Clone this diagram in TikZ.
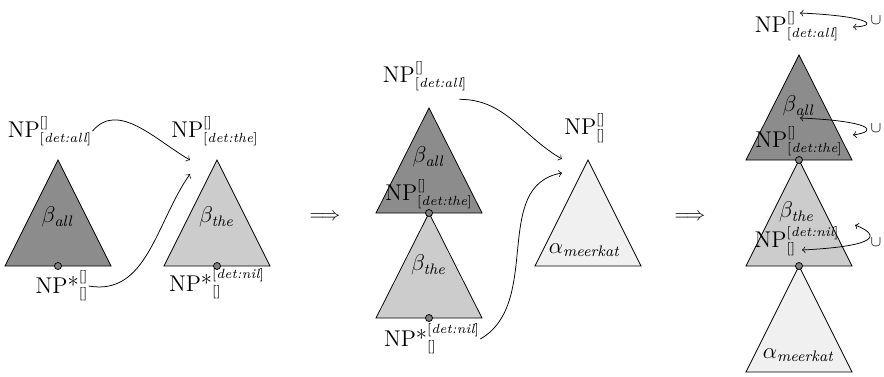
\documentclass[tikz,border=0pt]{standalone}
\usepackage{amsmath, amssymb}
\usepackage{tikz}
\usetikzlibrary{shapes, positioning}

\newcommand{\np}[2]{$\text{\large NP}^{[#1]}_{[#2]}$}
\newcommand{\npfoot}[2]{$\text{\large NP*}^{[#1]}_{[#2]}$}

\begin{document}
\begin{tikzpicture}[x=0.185cm, y=0.185cm,
		footdot/.style={circle, draw, fill=black!50, inner sep=0pt, minimum size=1.3mm},
		darktri/.style={draw, fill=black!45},
		lighttri/.style={draw, fill=black!20},
		palettri/.style={draw, fill=black!6},
		lab/.style={inner sep=0pt},
		greek/.style={inner sep=0pt, font=\large}]
	\useasboundingbox (0,0) rectangle (88.4,-37.6);
	
	% before: beta_all and beta_the
	\draw[darktri] (5.8,-16)--(0.5,-26.6)--(11.1,-26.6)--cycle;
	\draw[lighttri] (21.7,-16)--(16.4,-26.6)--(27.0,-26.6)--cycle;
	\node[footdot] (allDot) at (5.8,-26.6) {};
	\node[footdot] (theDot) at (21.7,-26.6) {};
	\node[greek] (allBeta) at (5.8,-21.7) {$\beta_{\mathit{all}}$};
	\node[greek] (theBeta) at (21.7,-21.7) {$\beta_{\mathit{the}}$};
	\node[lab] (allTop) at (5.0,-13.1) {\np{}{\textit{det:all}}};
	\node[lab] (theTop) at (21.5,-13.1) {\np{}{\textit{det:the}}};
	\node[lab] (allFoot) at (6.2,-28.6) {\npfoot{}{}};
	\node[lab] (theFoot) at (21.7,-28.4) {\npfoot{\textit{det:nil}}{}};
	\coordinate (theIn) at (19.0,-16.0);
	\coordinate (theInB) at (19.0,-17.4);
	\draw[->] (allTop.east) to[out=50, in=150] (theIn);
	\draw[->] (allFoot.east) to[out=-10, in=-125] (theInB);
	
	\node (stepA) at (32.5,-21.7) {$\Longrightarrow$};
	
	% middle: beta_the adjoined into beta_all
	\draw[darktri] (42.9,-10.8)--(37.6,-21.3)--(48.2,-21.3)--cycle;
	\draw[lighttri] (42.9,-21.3)--(37.6,-31.8)--(48.2,-31.8)--cycle;
	\draw[palettri] (58.8,-16)--(53.5,-26.6)--(64.1,-26.6)--cycle;
	\node[footdot] (midDotA) at (42.9,-21.3) {};
	\node[footdot] (midDotB) at (42.9,-31.8) {};
	\node[greek] (midAllBeta) at (42.9,-15.7) {$\beta_{\mathit{all}}$};
	\node[lab] (midTheLab) at (42.9,-19.4) {\np{}{\textit{det:the}}};
	\node[greek] (midTheBeta) at (42.9,-26.5) {$\beta_{\mathit{the}}$};
	\node[lab] (midTop) at (42.5,-7.6) {\np{}{\textit{det:all}}};
	\node[lab] (midFoot) at (43.2,-33.9) {\npfoot{\textit{det:nil}}{}};
	\node[lab] (meerTop) at (58.5,-12.8) {\np{}{}};
	\node[greek] (meerAlpha) at (58.5,-25.0) {$\alpha_{\mathit{meerkat}}$};
	\coordinate (meerIn) at (56.2,-15.9);
	\coordinate (meerInB) at (56.2,-17.3);
	\draw[->] ([xshift=-1.5mm, yshift=-1.5mm]midTop.south east) to[out=0, in=150] (meerIn);
	\draw[->] (midFoot.east) to[out=30, in=190] (meerInB);
	
	\node (stepB) at (69.0,-21.7) {$\Longrightarrow$};
	
	% after: the derived tree
	\draw[darktri] (79.9,-5.5)--(74.6,-16)--(85.2,-16)--cycle;
	\draw[lighttri] (79.9,-16)--(74.6,-26.6)--(85.2,-26.6)--cycle;
	\draw[palettri] (79.9,-26.6)--(74.6,-37.2)--(85.2,-37.2)--cycle;
	\node[footdot] (endDotA) at (79.9,-16) {};
	\node[footdot] (endDotB) at (79.9,-26.6) {};
	\node[lab] (endTop) at (79.7,-2.6) {\np{}{\textit{det:all}}};
	\node[greek] (endAllBeta) at (79.9,-10.6) {$\beta_{\mathit{all}}$};
	\node[lab] (endTheLab) at (79.9,-14.1) {\np{}{\textit{det:the}}};
	\node[greek] (endTheBeta) at (79.7,-21.2) {$\beta_{\mathit{the}}$};
	\node[lab] (endNilLab) at (79.7,-24.1) {\np{\textit{det:nil}}{}};
	\node[greek] (endAlpha) at (79.9,-35.5) {$\alpha_{\mathit{meerkat}}$};
	
	% unification loops
	\node (cupA) at (87.6,-2.0) {\footnotesize$\cup$};
	\node (cupB) at (87.6,-12.8) {\footnotesize$\cup$};
	\node (cupC) at (87.6,-24.2) {\footnotesize$\cup$};
	\coordinate (loopAi) at (80.0,-1.3);
	\coordinate (loopAo) at (85.3,-2.7);
	\coordinate (loopBi) at (80.0,-11.8);
	\coordinate (loopBo) at (85.3,-13.5);
	\coordinate (loopCi) at (85.5,-22.5);
	\coordinate (loopCo) at (80.2,-25.0);
	\draw[<->] (loopAi) .. controls (87,-1.6) and (88,-2.6) .. (loopAo);
	\draw[<->] (loopBi) .. controls (87,-12.1) and (88,-13.1) .. (loopBo);
	\draw[<->] (loopCi) .. controls (88,-23.5) and (88,-24.6) .. (loopCo);
\end{tikzpicture}
\end{document}
